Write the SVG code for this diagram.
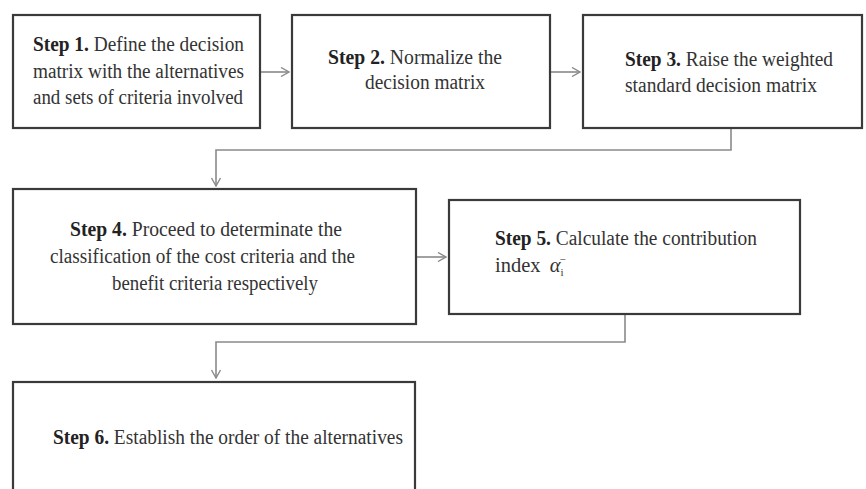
<svg xmlns="http://www.w3.org/2000/svg" width="866" height="489" viewBox="0 0 866 489">
<style>
.box{fill:#fff;stroke:#3a3a3a;stroke-width:2.2}
.t{font-family:'Liberation Serif','Tinos','DejaVu Serif',serif;font-size:20.5px;fill:#333}
.b{font-weight:bold;fill:#222}
.c{fill:none;stroke:#8a8a8a;stroke-width:1.6}
</style>
<defs>
<marker id="ah" viewBox="0 0 10 10" refX="9" refY="5" markerWidth="10" markerHeight="10" markerUnits="userSpaceOnUse" orient="auto">
<path d="M1,0.5 L9,5 L1,9.5" fill="none" stroke="#8a8a8a" stroke-width="1.4"/>
</marker>
</defs>
<rect width="866" height="489" fill="#fff"/>
<g id="connectors">
<line class="c" x1="261" y1="72" x2="289" y2="72" marker-end="url(#ah)"/>
<line class="c" x1="551" y1="72" x2="580" y2="72" marker-end="url(#ah)"/>
<polyline class="c" points="731,129 731,150 216,150 216,186" marker-end="url(#ah)"/>
<line class="c" x1="417" y1="257" x2="446" y2="257" marker-end="url(#ah)"/>
<polyline class="c" points="625,315 625,342 216,342 216,378" marker-end="url(#ah)"/>
</g>
<g id="step1">
<rect class="box" x="13" y="15" width="247" height="113"/>
<text class="t" x="33" y="51" textLength="211" lengthAdjust="spacingAndGlyphs"><tspan class="b">Step 1.</tspan> Define the decision</text>
<text class="t" x="33" y="78" textLength="211" lengthAdjust="spacingAndGlyphs">matrix with the alternatives</text>
<text class="t" x="33" y="104" textLength="210" lengthAdjust="spacingAndGlyphs">and sets of criteria involved</text>
</g>
<g id="step2">
<rect class="box" x="292" y="15" width="258" height="113"/>
<text class="t" x="328" y="64" textLength="174" lengthAdjust="spacingAndGlyphs"><tspan class="b">Step 2.</tspan> Normalize the</text>
<text class="t" x="365" y="89" textLength="120" lengthAdjust="spacingAndGlyphs">decision matrix</text>
</g>
<g id="step3">
<rect class="box" x="583" y="15" width="279" height="113"/>
<text class="t" x="625" y="66" textLength="208" lengthAdjust="spacingAndGlyphs"><tspan class="b">Step 3.</tspan> Raise the weighted</text>
<text class="t" x="625" y="92" textLength="192" lengthAdjust="spacingAndGlyphs">standard decision matrix</text>
</g>
<g id="step4">
<rect class="box" x="13" y="189" width="403" height="135"/>
<text class="t" x="70" y="236" textLength="272" lengthAdjust="spacingAndGlyphs"><tspan class="b">Step 4.</tspan> Proceed to determinate the</text>
<text class="t" x="50" y="263" textLength="305" lengthAdjust="spacingAndGlyphs">classification of the cost criteria and the</text>
<text class="t" x="112" y="290" textLength="206" lengthAdjust="spacingAndGlyphs">benefit criteria respectively</text>
</g>
<g id="step5">
<rect class="box" x="449" y="200" width="351" height="114"/>
<text class="t" x="495" y="245" textLength="262" lengthAdjust="spacingAndGlyphs"><tspan class="b">Step 5.</tspan> Calculate the contribution</text>
<text class="t" x="495" y="272">index <tspan font-style="italic" dx="4">α</tspan><tspan font-size="11" dy="4">i</tspan><tspan font-size="11" dx="-4" dy="-13">−</tspan></text>
</g>
<g id="step6">
<rect class="box" x="13" y="382" width="402" height="120"/>
<text class="t" x="53" y="444" textLength="350" lengthAdjust="spacingAndGlyphs"><tspan class="b">Step 6.</tspan> Establish the order of the alternatives</text>
</g>
</svg>
